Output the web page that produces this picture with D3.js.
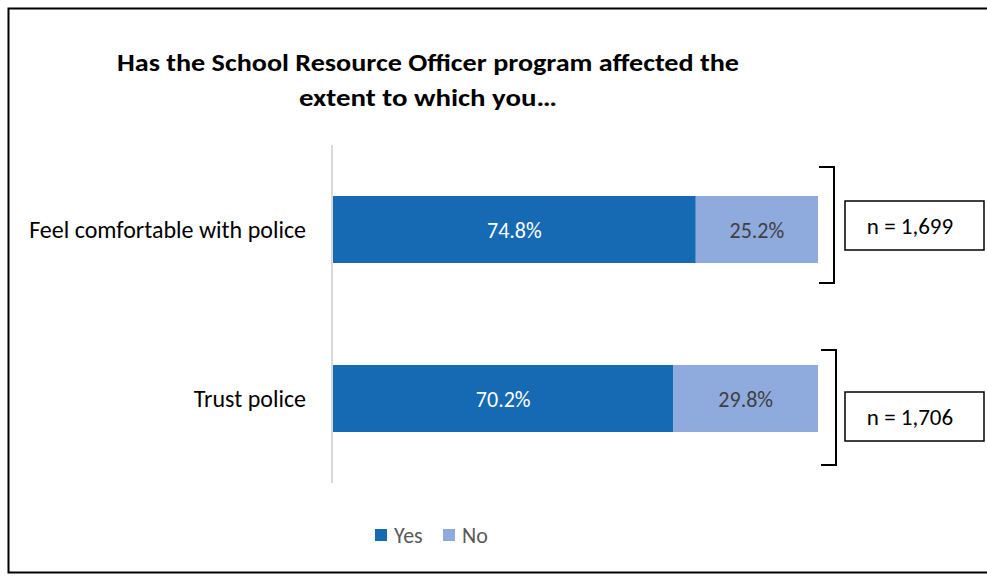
<!DOCTYPE html>
<html><head><meta charset="utf-8">
<script src="https://cdn.jsdelivr.net/npm/d3@7"></script>
<style>body{margin:0;background:#fff}svg{display:block}</style>
</head><body>
<script>
const categories = ["Feel comfortable with police", "Trust police"];
const yesValues = [74.8, 70.2];
const noValues = [25.2, 29.8];
const nLabels = ["n = 1,699", "n = 1,706"];
const seriesNames = ["Yes", "No"];
const colors = ["#1669B3", "#8FAADC"];
const titleLines = ["Has the School Resource Officer program affected the", "extent to which you…"];

const W = 987, H = 576;
const svg = d3.select("body").append("svg").attr("width", W).attr("height", H);
const font = "Carlito, Calibri, 'Open Sans', 'Noto Sans', sans-serif";

// outer frame (left, top, bottom)
svg.append("path").attr("d", `M${W+5},8.5 H8.5 V572.5 H${W+5}`)
  .attr("fill", "none").attr("stroke", "#000").attr("stroke-width", 2);

// title
svg.selectAll("text.title").data(titleLines).join("text")
  .attr("class", "title").attr("x", 428).attr("y", (d, i) => 71 + i * 35)
  .attr("text-anchor", "middle").attr("font-family", font).attr("font-weight", "bold")
  .attr("font-size", 25).attr("fill", "#000")
  .attr("textLength", (d, i) => i === 0 ? 622 : 258).attr("lengthAdjust", "spacingAndGlyphs")
  .text(d => d);

const x = d3.scaleLinear().domain([0, 100]).range([333, 818]);
const y = d3.scaleBand().domain(categories).range([145, 483]).paddingInner(0.6036).paddingOuter(0.3018);

// axis line
svg.append("line").attr("x1", 332).attr("x2", 332).attr("y1", 145).attr("y2", 483)
  .attr("stroke", "#d9d9d9").attr("stroke-width", 2);

const rows = categories.map((c, i) => ({ c, yes: yesValues[i], no: noValues[i], n: nLabels[i] }));

const g = svg.selectAll("g.row").data(rows).join("g").attr("class", "row");
g.append("rect").attr("x", x(0)).attr("y", d => y(d.c)).attr("width", d => x(d.yes) - x(0))
  .attr("height", y.bandwidth()).attr("fill", colors[0]);
g.append("rect").attr("x", d => x(d.yes)).attr("y", d => y(d.c)).attr("width", d => x(d.yes + d.no) - x(d.yes))
  .attr("height", y.bandwidth()).attr("fill", colors[1]);
g.append("text").attr("x", d => (x(0) + x(d.yes)) / 2).attr("y", d => y(d.c) + y.bandwidth() / 2 + 8)
  .attr("text-anchor", "middle").attr("font-family", font).attr("font-size", 22).attr("fill", "#fff")
  .text(d => d.yes.toFixed(1) + "%");
g.append("text").attr("x", d => (x(d.yes) + x(d.yes + d.no)) / 2).attr("y", d => y(d.c) + y.bandwidth() / 2 + 8)
  .attr("text-anchor", "middle").attr("font-family", font).attr("font-size", 22).attr("fill", "#404040")
  .text(d => d.no.toFixed(1) + "%");
g.append("text").attr("x", 306).attr("y", d => y(d.c) + y.bandwidth() / 2 + 8)
  .attr("text-anchor", "end").attr("font-family", font).attr("font-size", 24).attr("fill", "#000")
  .text(d => d.c);

// brackets and n boxes
const bracketOffsets = [[-29, 20, 834], [-15, 33, 836]];
const boxY = [y(categories[0]) + 5, y(categories[1]) + 27];
g.append("path").attr("d", (d, i) => {
  const t = y(d.c) + bracketOffsets[i][0], b = y(d.c) + y.bandwidth() + bracketOffsets[i][1], bx = bracketOffsets[i][2];
  return `M${bx - 15},${t} H${bx} V${b} H${bx - 15}`;
}).attr("fill", "none").attr("stroke", "#000").attr("stroke-width", 2);
g.append("rect").attr("x", 845).attr("y", (d, i) => boxY[i]).attr("width", 139).attr("height", 49)
  .attr("fill", "#fff").attr("stroke", "#000").attr("stroke-width", 1.5);
g.append("text").attr("x", 910).attr("y", (d, i) => boxY[i] + 33)
  .attr("text-anchor", "middle").attr("font-family", font).attr("font-size", 23).attr("fill", "#000")
  .text(d => d.n);

// legend
const legX = [375, 443];
const lg = svg.selectAll("g.leg").data(seriesNames).join("g").attr("class", "leg");
lg.append("rect").attr("x", (d, i) => legX[i]).attr("y", 529).attr("width", 12).attr("height", 12)
  .attr("fill", (d, i) => colors[i]);
lg.append("text").attr("x", (d, i) => legX[i] + 19).attr("y", 543)
  .attr("font-family", font).attr("font-size", 22).attr("fill", "#595959").text(d => d);
</script>
</body></html>
